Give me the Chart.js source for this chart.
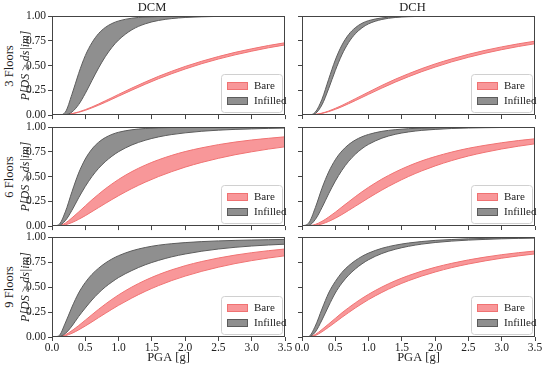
<!DOCTYPE html>
<html>
<head>
<meta charset="utf-8">
<script src="https://cdn.jsdelivr.net/npm/chart.js@4.4.1/dist/chart.umd.min.js"></script>
<style>
  body { margin: 0; background: #fff; }
  #wrap { position: relative; width: 550px; height: 366px; background: #fff; overflow: hidden; }
  .pane { position: absolute; }
  .row { position: absolute; font-family: 'Liberation Serif', 'DejaVu Serif', serif; font-size: 12.5px; color: #222;
         transform: translate(-50%, -50%) rotate(-90deg); white-space: nowrap; }
</style>
</head>
<body>
<div id="wrap">
  <div class="row" style="left:9px;top:66px">3 Floors</div>
  <div class="row" style="left:9px;top:177px">6 Floors</div>
  <div class="row" style="left:9px;top:287px">9 Floors</div>
</div>
<script>
// x values (PGA in g) where the curves were read
var pga = [0, 0.1, 0.2, 0.3, 0.4, 0.5, 0.6, 0.7, 0.8, 0.9, 1.0, 1.2, 1.4, 1.6, 1.8, 2.0, 2.25, 2.5, 2.75, 3.0, 3.25, 3.5];
var xTicks = [0, 0.5, 1.0, 1.5, 2.0, 2.5, 3.0, 3.5];
var yTicks = [0, 0.25, 0.5, 0.75, 1.0];
var columns = ['DCM', 'DCH'];
var seriesNames = ['Bare', 'Infilled'];

// 3 floors
var dcm3GrayHi = [0, 0, 0.03, 0.21, 0.42, 0.60, 0.73, 0.823, 0.884, 0.924, 0.950, 0.978, 0.990, 0.995, 0.998, 0.999, 1, 1, 1, 1, 1, 1];
var dcm3GrayLo = [0, 0, 0.003, 0.031, 0.106, 0.219, 0.349, 0.476, 0.589, 0.683, 0.758, 0.861, 0.921, 0.955, 0.974, 0.985, 0.992, 0.996, 0.998, 0.999, 1, 1];
var dcm3RedHi = [0, 0, 0.004, 0.015, 0.032, 0.055, 0.082, 0.112, 0.144, 0.176, 0.209, 0.273, 0.334, 0.391, 0.443, 0.491, 0.544, 0.591, 0.633, 0.669, 0.702, 0.730];
var dcm3RedLo = [0, 0, 0.003, 0.012, 0.028, 0.048, 0.073, 0.100, 0.129, 0.160, 0.191, 0.252, 0.311, 0.367, 0.418, 0.465, 0.519, 0.566, 0.608, 0.645, 0.679, 0.708];

var dch3GrayHi = [0, 0, 0.029, 0.159, 0.360, 0.555, 0.706, 0.812, 0.881, 0.926, 0.953, 0.981, 0.992, 0.997, 0.999, 1, 1, 1, 1, 1, 1, 1];
var dch3GrayLo = [0, 0, 0.015, 0.103, 0.266, 0.449, 0.609, 0.732, 0.820, 0.880, 0.921, 0.965, 0.985, 0.993, 0.997, 0.999, 1, 1, 1, 1, 1, 1];
var dch3RedHi = [0, 0, 0.006, 0.019, 0.040, 0.067, 0.097, 0.130, 0.164, 0.198, 0.232, 0.299, 0.361, 0.417, 0.469, 0.516, 0.567, 0.613, 0.653, 0.688, 0.719, 0.746];
var dch3RedLo = [0, 0, 0.005, 0.016, 0.034, 0.057, 0.084, 0.114, 0.145, 0.177, 0.209, 0.272, 0.332, 0.387, 0.438, 0.484, 0.537, 0.583, 0.624, 0.660, 0.692, 0.720];

// 6 floors
var dcm6GrayHi = [0, 0.013, 0.143, 0.347, 0.535, 0.677, 0.777, 0.846, 0.893, 0.925, 0.947, 0.972, 0.985, 0.992, 0.995, 0.997, 0.998, 0.999, 1, 1, 1, 1];
var dcm6GrayLo = [0, 0.005, 0.055, 0.16, 0.285, 0.40, 0.50, 0.583, 0.650, 0.705, 0.751, 0.819, 0.866, 0.900, 0.924, 0.941, 0.957, 0.968, 0.976, 0.981, 0.986, 0.989];
var dcm6RedHi = [0, 0.003, 0.03, 0.083, 0.142, 0.204, 0.265, 0.322, 0.376, 0.425, 0.471, 0.550, 0.615, 0.669, 0.714, 0.752, 0.790, 0.822, 0.848, 0.869, 0.886, 0.901];
var dcm6RedLo = [0, 0.001, 0.013, 0.036, 0.068, 0.105, 0.146, 0.187, 0.228, 0.268, 0.307, 0.379, 0.443, 0.500, 0.550, 0.595, 0.643, 0.684, 0.720, 0.750, 0.777, 0.800];

var dch6GrayHi = [0, 0.029, 0.185, 0.381, 0.545, 0.669, 0.758, 0.822, 0.868, 0.901, 0.925, 0.956, 0.973, 0.983, 0.989, 0.993, 0.996, 0.997, 0.998, 0.999, 0.999, 0.999];
var dch6GrayLo = [0, 0.005, 0.066, 0.186, 0.325, 0.453, 0.563, 0.653, 0.724, 0.781, 0.825, 0.887, 0.926, 0.950, 0.966, 0.976, 0.985, 0.990, 0.993, 0.995, 0.997, 0.998];
var dch6RedHi = [0, 0.002, 0.016, 0.047, 0.090, 0.139, 0.192, 0.244, 0.296, 0.345, 0.391, 0.474, 0.545, 0.606, 0.658, 0.701, 0.747, 0.785, 0.815, 0.841, 0.863, 0.881];
var dch6RedLo = [0, 0, 0.006, 0.021, 0.046, 0.078, 0.116, 0.157, 0.199, 0.241, 0.283, 0.363, 0.435, 0.500, 0.557, 0.607, 0.661, 0.707, 0.745, 0.778, 0.806, 0.830];

// 9 floors
var dcm9GrayHi = [0, 0.01, 0.14, 0.30, 0.44, 0.545, 0.626, 0.688, 0.739, 0.780, 0.813, 0.862, 0.895, 0.918, 0.933, 0.944, 0.954, 0.961, 0.966, 0.970, 0.973, 0.976];
var dcm9GrayLo = [0, 0.003, 0.035, 0.11, 0.205, 0.29, 0.37, 0.44, 0.50, 0.55, 0.595, 0.665, 0.722, 0.766, 0.802, 0.830, 0.858, 0.880, 0.897, 0.910, 0.920, 0.928];
var dcm9RedHi = [0, 0.002, 0.022, 0.064, 0.114, 0.168, 0.223, 0.277, 0.328, 0.376, 0.421, 0.500, 0.567, 0.624, 0.672, 0.713, 0.755, 0.790, 0.819, 0.843, 0.863, 0.880];
var dcm9RedLo = [0, 0.001, 0.013, 0.037, 0.071, 0.110, 0.151, 0.194, 0.236, 0.277, 0.317, 0.390, 0.456, 0.514, 0.565, 0.609, 0.657, 0.698, 0.734, 0.764, 0.790, 0.812];

var dch9GrayHi = [0, 0.005, 0.11, 0.28, 0.44, 0.555, 0.646, 0.712, 0.764, 0.806, 0.839, 0.887, 0.918, 0.940, 0.955, 0.966, 0.975, 0.982, 0.986, 0.990, 0.992, 0.994];
var dch9GrayLo = [0, 0.002, 0.05, 0.17, 0.31, 0.44, 0.54, 0.618, 0.680, 0.731, 0.773, 0.835, 0.877, 0.907, 0.929, 0.945, 0.959, 0.969, 0.976, 0.982, 0.986, 0.989];
var dch9RedHi = [0, 0.002, 0.025, 0.075, 0.13, 0.186, 0.242, 0.293, 0.341, 0.386, 0.427, 0.500, 0.562, 0.614, 0.659, 0.697, 0.737, 0.771, 0.799, 0.823, 0.843, 0.860];
var dch9RedLo = [0, 0.001, 0.015, 0.052, 0.098, 0.147, 0.197, 0.244, 0.290, 0.333, 0.374, 0.446, 0.509, 0.563, 0.610, 0.650, 0.694, 0.730, 0.761, 0.788, 0.811, 0.831];

var redFill = 'rgba(246,128,130,0.82)';
var redEdge = '#f07272';
var grayFill = 'rgba(128,128,128,0.88)';
var grayEdge = '#5c5c5c';
var textColor = '#222';

Chart.defaults.font.family = "'Liberation Serif', 'DejaVu Serif', serif";
Chart.defaults.color = textColor;

function pts(ys) {
  return pga.map(function (x, i) { return { x: x, y: ys[i] }; });
}

// box around the plot area, like matplotlib spines
var frame = {
  id: 'frame',
  afterDatasetsDraw: function (chart) {
    var ca = chart.chartArea, ctx = chart.ctx;
    ctx.save();
    ctx.strokeStyle = '#444';
    ctx.lineWidth = 1;
    ctx.strokeRect(Math.round(ca.left) + 0.5, Math.round(ca.top) + 0.5,
                   Math.round(ca.right - ca.left) - 1, Math.round(ca.bottom - ca.top) - 1);
    ctx.restore();
  }
};

// legend drawn inside the lower right corner
var innerLegend = {
  id: 'innerLegend',
  afterDraw: function (chart) {
    var ca = chart.chartArea, ctx = chart.ctx;
    var w = 61, h = 38;
    var x = Math.round(ca.right) - w - 3, y = Math.round(ca.bottom) - h - 3;
    ctx.save();
    ctx.beginPath();
    ctx.roundRect(x + 0.5, y + 0.5, w, h, 3);
    ctx.fillStyle = 'rgba(255,255,255,0.85)';
    ctx.fill();
    ctx.strokeStyle = '#d0d0d0';
    ctx.lineWidth = 1;
    ctx.stroke();
    var items = [[seriesNames[0], redFill, redEdge], [seriesNames[1], grayFill, grayEdge]];
    ctx.font = "11px 'Liberation Serif', 'DejaVu Serif', serif";
    ctx.textBaseline = 'middle';
    for (var i = 0; i < items.length; i++) {
      var cy = y + 12 + i * 15;
      ctx.fillStyle = items[i][1];
      ctx.fillRect(x + 6, cy - 4, 21, 8);
      ctx.strokeStyle = items[i][2];
      ctx.strokeRect(x + 6.5, cy - 3.5, 20, 7);
      ctx.fillStyle = textColor;
      ctx.fillText(items[i][0], x + 33, cy + 0.5);
    }
    ctx.restore();
  }
};

function band(lo, hi, fill, edge) {
  var base = { borderColor: edge, backgroundColor: fill, borderWidth: 1, pointRadius: 0,
               cubicInterpolationMode: 'monotone' };
  return [
    Object.assign({ data: pts(lo), fill: false }, base),
    Object.assign({ data: pts(hi), fill: '-1' }, base)
  ];
}

function makePanel(row, col, red, gray) {
  var isLeft = col === 0, isTop = row === 0, isBottom = row === 2;
  var tops = [0, 111, 221];
  var heights = [120, 120, 145];
  var targetBottom = [115, 115, 116];
  var div = document.createElement('div');
  div.className = 'pane';
  div.style.left = (isLeft ? 0 : 290) + 'px';
  div.style.top = tops[row] + 'px';
  var cv = document.createElement('canvas');
  cv.width = isLeft ? 300 : 260;
  cv.height = heights[row];
  div.appendChild(cv);
  document.getElementById('wrap').appendChild(div);

  var cfg = {
    type: 'line',
    data: { datasets: band(gray[0], gray[1], grayFill, grayEdge).concat(band(red[0], red[1], redFill, redEdge)) },
    options: {
      responsive: false,
      maintainAspectRatio: false,
      animation: false,
      layout: { padding: { left: isLeft ? 19 : 0, right: 15, top: isTop ? 0 : 16, bottom: 0 } },
      plugins: {
        legend: { display: false },
        tooltip: { enabled: false },
        title: { display: isTop, text: columns[col], color: textColor,
                 font: { size: 12.5, weight: 'normal', lineHeight: 1.2 }, padding: { top: 0, bottom: 1 } }
      },
      scales: {
        x: {
          type: 'linear', min: 0, max: 3.5,
          afterBuildTicks: function (s) { s.ticks = xTicks.map(function (v) { return { value: v }; }); },
          afterFit: function (s) { s.height = isBottom ? 29 : 5; },
          ticks: { display: isBottom, autoSkip: false, maxRotation: 0, padding: 0, font: { size: 11.5 },
                   callback: function (v) { return v.toFixed(1); } },
          grid: { drawOnChartArea: false, tickLength: 4, color: '#444' },
          border: { display: false },
          title: { display: isBottom, text: 'PGA [g]', font: { size: 12.5 }, padding: { top: 0, bottom: 1 } }
        },
        y: {
          min: 0, max: 1,
          afterBuildTicks: function (s) { s.ticks = yTicks.map(function (v) { return { value: v }; }); },
          afterFit: function (s) { s.width = isLeft ? 33 : 12; },
          ticks: { display: isLeft, padding: 2, font: { size: 11.5 },
                   callback: function (v) { return v.toFixed(2); } },
          grid: { drawOnChartArea: false, tickLength: 4, color: '#444' },
          border: { display: false },
          title: { display: isLeft, text: 'P[DS \u2265 ds|im]', font: { size: 12, style: 'italic' },
                   padding: { top: 0, bottom: 0 } }
        }
      }
    },
    plugins: [frame, innerLegend]
  };

  var chart = new Chart(cv, cfg);
  // keep the plot box where the reference has it: grow or shrink the canvas by the gap
  var dy = targetBottom[row] - chart.chartArea.bottom;
  if (Math.abs(dy) >= 0.5) {
    chart.destroy();
    cv.height = Math.round(heights[row] + dy);
    cv.style.height = cv.height + 'px';
    chart = new Chart(cv, cfg);
  }
}

makePanel(0, 0, [dcm3RedLo, dcm3RedHi], [dcm3GrayLo, dcm3GrayHi]);
makePanel(0, 1, [dch3RedLo, dch3RedHi], [dch3GrayLo, dch3GrayHi]);
makePanel(1, 0, [dcm6RedLo, dcm6RedHi], [dcm6GrayLo, dcm6GrayHi]);
makePanel(1, 1, [dch6RedLo, dch6RedHi], [dch6GrayLo, dch6GrayHi]);
makePanel(2, 0, [dcm9RedLo, dcm9RedHi], [dcm9GrayLo, dcm9GrayHi]);
makePanel(2, 1, [dch9RedLo, dch9RedHi], [dch9GrayLo, dch9GrayHi]);
</script>
</body>
</html>
